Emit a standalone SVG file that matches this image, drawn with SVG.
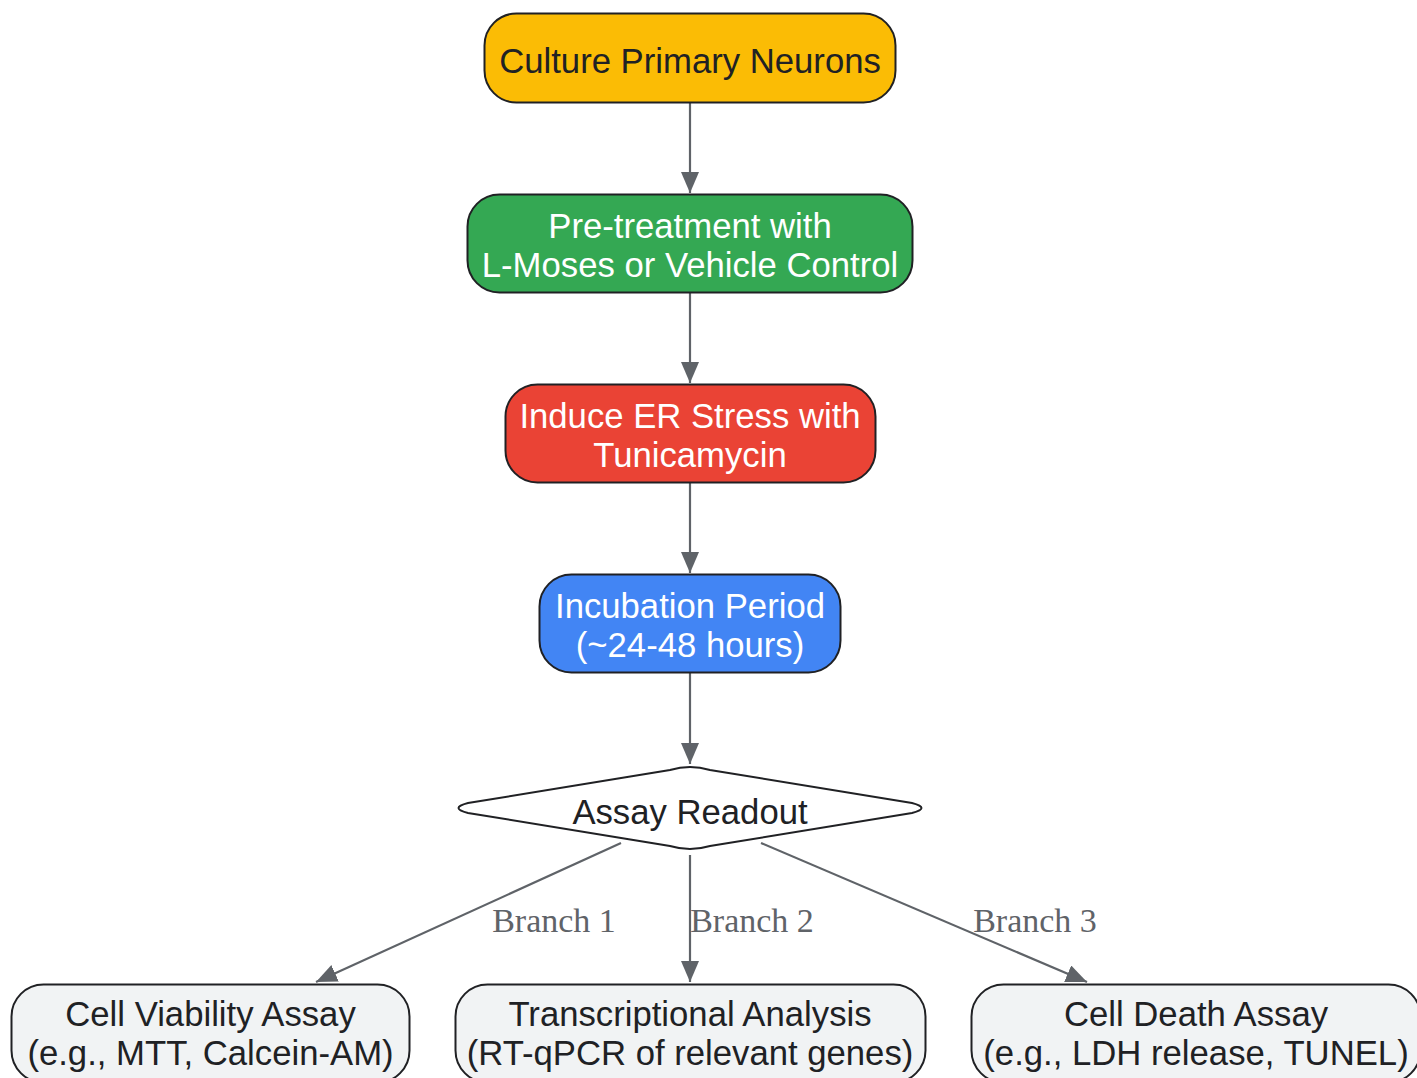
<svg xmlns="http://www.w3.org/2000/svg" width="1417" height="1078" viewBox="0 0 1417 1078">
<defs>
<marker id="arr" viewBox="0 0 12 10" refX="12" refY="5" markerWidth="21" markerHeight="18" markerUnits="userSpaceOnUse" orient="auto" preserveAspectRatio="none">
<path d="M0,0 L12,5 L0,10 z" fill="#5f6368"/>
</marker>
<style>
.node{stroke:#202124;stroke-width:2}
.t{font-family:"Liberation Sans",Arial,sans-serif;font-size:34.7px;text-anchor:middle}
.dark{fill:#202124}
.light{fill:#ffffff}
.edge{stroke:#5f6368;stroke-width:2.2;fill:none}
.lbl{font-family:"Liberation Serif","Times New Roman",serif;font-size:34px;fill:#5f6368}
</style>
</defs>
<rect width="1417" height="1078" fill="#ffffff"/>
<g id="connectors">
<line class="edge" x1="690" y1="103" x2="690" y2="193" marker-end="url(#arr)"/>
<line class="edge" x1="690" y1="293" x2="690" y2="383" marker-end="url(#arr)"/>
<line class="edge" x1="690" y1="483" x2="690" y2="573" marker-end="url(#arr)"/>
<line class="edge" x1="690" y1="673" x2="690" y2="764" marker-end="url(#arr)"/>
<line class="edge" x1="621" y1="843" x2="316" y2="982" marker-end="url(#arr)"/>
<line class="edge" x1="690" y1="855" x2="690" y2="982" marker-end="url(#arr)"/>
<line class="edge" x1="761" y1="843" x2="1087" y2="982" marker-end="url(#arr)"/>
<text class="lbl" x="554" y="932" text-anchor="middle">Branch 1</text>
<text class="lbl" x="752" y="932" text-anchor="middle">Branch 2</text>
<text class="lbl" x="1035" y="932" text-anchor="middle">Branch 3</text>
</g>
<g id="n1">
<rect class="node" x="484.5" y="13.5" width="411" height="89" rx="32" fill="#fbbc05"/>
<text class="t dark" x="690" y="73">Culture Primary Neurons</text>
</g>
<g id="n2">
<rect class="node" x="467.5" y="194.5" width="445" height="98" rx="32" fill="#34a853"/>
<text class="t light" x="690" y="238">Pre-treatment with</text>
<text class="t light" x="690" y="277">L-Moses or Vehicle Control</text>
</g>
<g id="n3">
<rect class="node" x="505.5" y="384.5" width="370" height="98" rx="32" fill="#ea4335"/>
<text class="t light" x="690" y="428">Induce ER Stress with</text>
<text class="t light" x="690" y="467">Tunicamycin</text>
</g>
<g id="n4">
<rect class="node" x="539.5" y="574.5" width="301" height="98" rx="32" fill="#4285f4"/>
<text class="t light" x="690" y="618">Incubation Period</text>
<text class="t light" x="690" y="657">(~24-48 hours)</text>
</g>
<g id="n5">
<path class="node" fill="#ffffff" d="M670,770 Q690,764 710,770 L912,803 Q931,808 912,813 L710,846 Q690,852 670,846 L468,813 Q449,808 468,803 Z"/>
<text class="t dark" x="690" y="824">Assay Readout</text>
</g>
<g id="n6">
<rect class="node" x="11.5" y="984.5" width="398" height="98" rx="32" fill="#f1f3f4"/>
<text class="t dark" x="210.5" y="1026">Cell Viability Assay</text>
<text class="t dark" x="210.5" y="1065">(e.g., MTT, Calcein-AM)</text>
</g>
<g id="n7">
<rect class="node" x="455.5" y="984.5" width="470" height="98" rx="32" fill="#f1f3f4"/>
<text class="t dark" x="690" y="1026">Transcriptional Analysis</text>
<text class="t dark" x="690" y="1065">(RT-qPCR of relevant genes)</text>
</g>
<g id="n8">
<rect class="node" x="971.5" y="984.5" width="449" height="98" rx="32" fill="#f1f3f4"/>
<text class="t dark" x="1196" y="1026">Cell Death Assay</text>
<text class="t dark" x="1196" y="1065">(e.g., LDH release, TUNEL)</text>
</g>
</svg>
